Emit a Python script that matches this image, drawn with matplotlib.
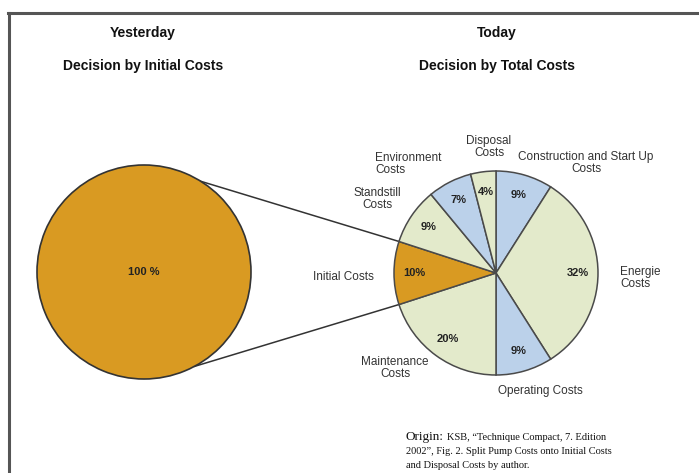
import numpy as np
import matplotlib.pyplot as plt
from matplotlib.lines import Line2D

plt.rcParams["font.family"] = ["Liberation Sans", "DejaVu Sans"]

# cost shares, clockwise from 12 o'clock
categories = ["Construction and Start Up\nCosts", "Energie\nCosts", "Operating Costs",
              "Maintenance\nCosts", "Initial Costs", "Standstill\nCosts",
              "Environment\nCosts", "Disposal\nCosts"]
shares = [9, 32, 9, 20, 10, 9, 7, 4]
old_share = [100]

ORANGE = "#D99A22"
GREEN = "#E3EACB"
BLUE = "#BBD1EA"
EDGE = "#4a4a4a"
slice_colors = [BLUE, GREEN, BLUE, GREEN, ORANGE, GREEN, BLUE, GREEN]

W, H = 699, 473


def py(y):
    # pixel row -> data y
    return H - y


fig = plt.figure(figsize=(W / 100, H / 100), dpi=100)
ax = fig.add_axes([0, 0, 1, 1])

left_c = (144, py(272))
left_r = 107
right_c = (496, py(273))
right_r = 102

ax.pie(old_share, colors=[ORANGE], center=left_c, radius=left_r,
       wedgeprops=dict(edgecolor="#333333", linewidth=1.2))
ax.text(left_c[0], left_c[1], "100 %", ha="center", va="center",
        fontsize=8, fontweight="bold", color="#222222")

wedges, _, autotexts = ax.pie(
    shares, colors=slice_colors, center=right_c, radius=right_r,
    startangle=90, counterclock=False, autopct="%d%%", pctdistance=0.8,
    wedgeprops=dict(edgecolor=EDGE, linewidth=1.1),
    textprops=dict(fontsize=8, fontweight="bold", color="#222222"))

# zoom lines from the big circle to the "Initial Costs" slice
init = wedges[categories.index("Initial Costs")]
for a_big, a_small in [(58, init.theta1), (-62, init.theta2)]:
    x0 = left_c[0] + left_r * np.cos(np.radians(a_big))
    y0 = left_c[1] + left_r * np.sin(np.radians(a_big))
    x1 = right_c[0] + right_r * np.cos(np.radians(a_small))
    y1 = right_c[1] + right_r * np.sin(np.radians(a_small))
    ax.plot([x0, x1], [y0, y1], color="#333333", lw=1.1, zorder=0)

label_pos = {
    "Construction and Start Up\nCosts": (586, 163, "center"),
    "Energie\nCosts": (620, 278, "left"),
    "Operating Costs": (540, 391, "center"),
    "Maintenance\nCosts": (395, 368, "center"),
    "Initial Costs": (343, 277, "center"),
    "Standstill\nCosts": (377, 199, "center"),
    "Environment\nCosts": (375, 164, "left"),
    "Disposal\nCosts": (489, 147, "center"),
}
for name in categories:
    x, y, ha = label_pos[name]
    ax.text(x, py(y), name, ha=ha, va="center", fontsize=8.5,
            color="#333333", linespacing=1.1, multialignment=ha)

# headings
for x, top, sub in [(143, "Yesterday", "Decision by Initial Costs"),
                    (497, "Today", "Decision by Total Costs")]:
    ax.text(x, py(33), top, ha="center", va="center", fontsize=10,
            fontweight="bold", color="#111111")
    ax.text(x, py(66), sub, ha="center", va="center", fontsize=10,
            fontweight="bold", color="#111111")

# source note
serif = ["Liberation Serif", "DejaVu Serif"]
ax.text(406, py(437), "Origin:", ha="left", va="center", fontsize=9.5,
        family=serif, color="#111111")
ax.text(447, py(437), "KSB, \u201cTechnique Compact, 7. Edition", ha="left",
        va="center", fontsize=7.5, family=serif, color="#111111")
ax.text(406, py(452), "2002\u201d, Fig. 2. Split Pump Costs onto Initial Costs",
        ha="left", va="center", fontsize=7.5, family=serif, color="#111111")
ax.text(406, py(466), "and Disposal Costs by author.", ha="left", va="center",
        fontsize=7.5, family=serif, color="#111111")

# frame around the panel
fig.add_artist(Line2D([8.5 / W, 8.5 / W], [0, 1 - 13 / H],
                      color="#555555", lw=2.2, transform=fig.transFigure))
fig.add_artist(Line2D([7.5 / W, 1], [1 - 13 / H, 1 - 13 / H],
                      color="#555555", lw=2.2, transform=fig.transFigure))

ax.set_xlim(0, W)
ax.set_ylim(0, H)
ax.set_aspect("equal")
ax.axis("off")

fig.savefig("out.png", dpi=100, facecolor="white")
